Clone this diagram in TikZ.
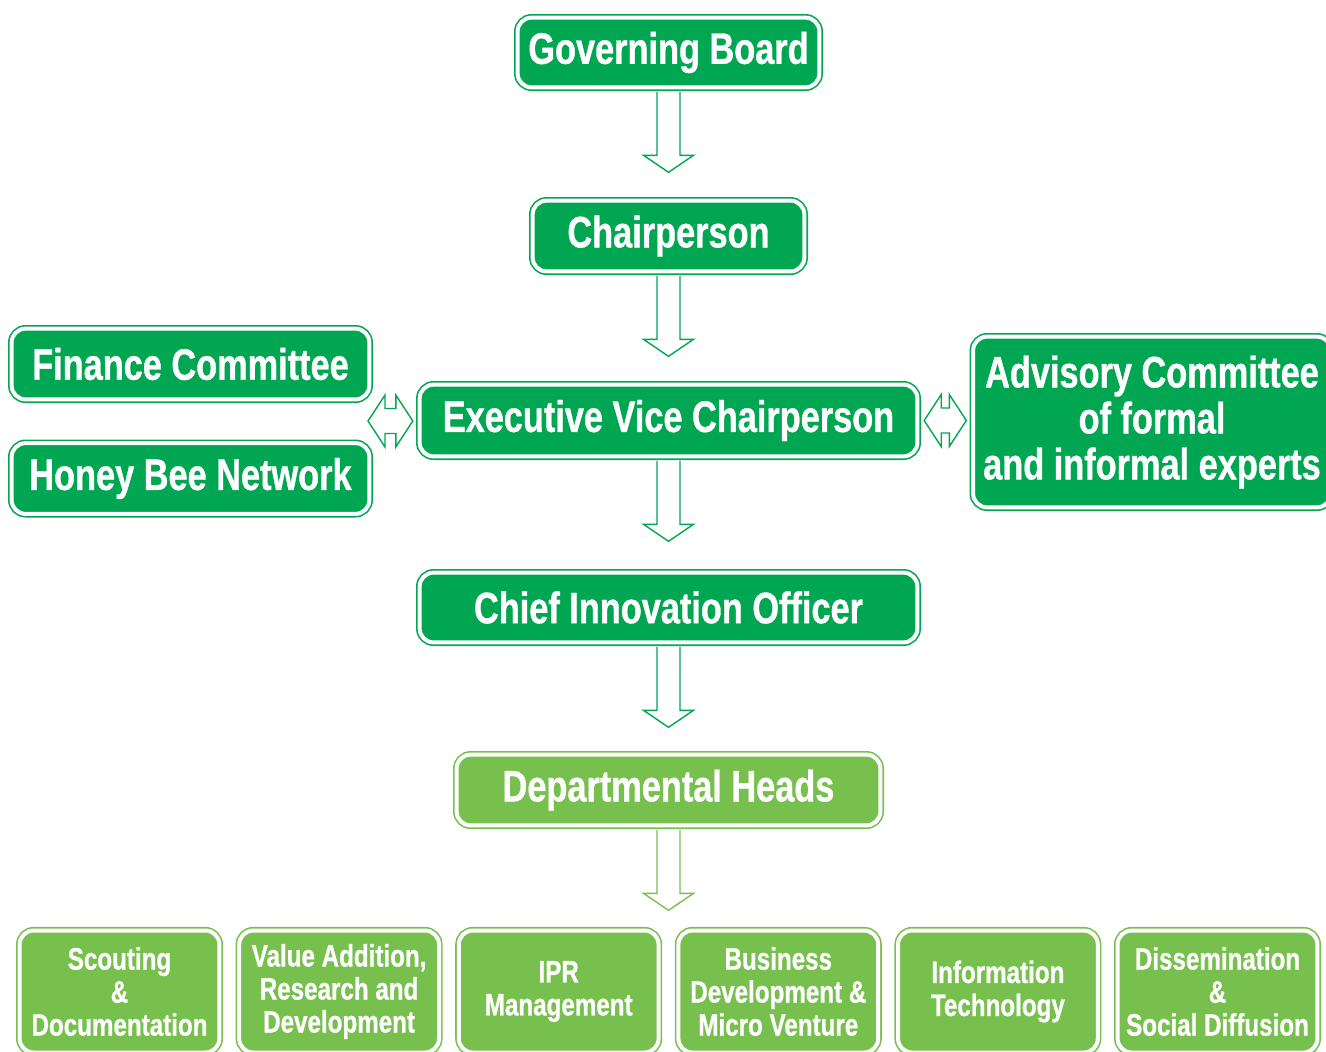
\documentclass[tikz,border=0pt]{standalone}
\usepackage{fontspec}
\setmainfont{Liberation Sans}[FakeStretch=0.78,BoldFeatures={FakeBold=0.8}]
\usetikzlibrary{calc}

\definecolor{dkgreen}{RGB}{0,166,81}
\definecolor{ltgreen}{RGB}{120,192,78}

\tikzset{
  box/.style={rectangle,rounded corners=7pt,draw=#1,fill=#1,double=white,
    double distance=2pt,line width=0.8pt,text=white,align=center,inner sep=0pt,
    font=\bfseries\fontsize{22}{23}\selectfont},
  box/.default=dkgreen,
  dept/.style={box=ltgreen,minimum width=99.9pt,minimum height=61pt,
    font=\bfseries\fontsize{15.5}{16.5}\selectfont},
  flow/.style={draw=#1,line width=0.7pt,line join=miter},
  flow/.default=dkgreen
}

% hollow block arrow pointing down, fixed length
\newcommand{\flowdown}[3][dkgreen]{%
  \draw[flow=#1] let \p1=($(#2.south)+(0,-1.8pt)$), \p2=($(#2.south)!42.05pt!(#3)$) in
    (\x1-5.75pt,\y1) -- (\x1-5.75pt,\y2+8.5pt) -- (\x1-12.5pt,\y2+8.5pt) -- (\x1,\y2)
    -- (\x1+12.5pt,\y2+8.5pt) -- (\x1+5.75pt,\y2+8.5pt) -- (\x1+5.75pt,\y1);}
% hollow double arrow, left-right
\newcommand{\flowboth}[2]{%
  \draw[flow] let \p1=(#1), \p2=(#2) in
    (\x1+3pt,\y1) -- (\x1+11.5pt,\y1+13pt) -- (\x1+11.5pt,\y1+6.25pt)
    -- (\x2-11.5pt,\y1+6.25pt) -- (\x2-11.5pt,\y1+13pt) -- (\x2-3pt,\y1)
    -- (\x2-11.5pt,\y1-13pt) -- (\x2-11.5pt,\y1-6.25pt) -- (\x1+11.5pt,\y1-6.25pt)
    -- (\x1+11.5pt,\y1-13pt) -- cycle;}

\begin{document}
\begin{tikzpicture}[x=0.5pt,y=-0.5pt]
  \useasboundingbox (0,0) rectangle (1326,1051);

  \node[box,minimum width=150.9pt,minimum height=34.9pt] (gb) at (668.5,52.5) {Governing Board};
  \node[box,minimum width=135.9pt,minimum height=35.4pt] (ch) at (668.5,236) {Chairperson};
  \node[box,minimum width=248.9pt,minimum height=35.9pt] (evc) at (668.5,420.5) {Executive Vice Chairperson};
  \node[box,minimum width=178.9pt,minimum height=35.4pt] (fin) at (190.5,364) {Finance Committee};
  \node[box,minimum width=178.9pt,minimum height=35.4pt] (hbn) at (190.5,478.5) {Honey Bee Network};
  \node[box,minimum width=178.9pt,minimum height=85.4pt] (adv) at (1152,422) {Advisory Committee\\of formal\\and informal experts};
  \node[box,minimum width=248.9pt,minimum height=34.9pt] (cio) at (668.5,607.5) {Chief Innovation Officer};
  \node[box=ltgreen,minimum width=211.9pt,minimum height=35.4pt] (dh) at (668.5,790) {Departmental Heads};

  \foreach \nm/\txt [count=\i from 0] in {scout/{Scouting\\\&\\Documentation},
      value/{Value Addition,\\Research and\\Development}, ipr/{IPR\\Management},
      busi/{Business\\Development \&\\Micro Venture}, it/{Information\\Technology},
      diss/{Dissemination\\\&\\Social Diffusion}}
    \node[dept] (\nm) at ({119.5+219.6*\i},991.5) {\txt};

  \coordinate (row) at (668.5,927);
  \coordinate (lhub) at (362,421);

  \flowdown{gb}{ch.north}
  \flowdown{ch}{evc.north}
  \flowdown{evc}{cio.north}
  \flowdown{cio}{dh.north}
  \flowdown[ltgreen]{dh}{row}
  \flowboth{lhub}{evc.west}
  \flowboth{evc.east}{adv.west}
\end{tikzpicture}
\end{document}
